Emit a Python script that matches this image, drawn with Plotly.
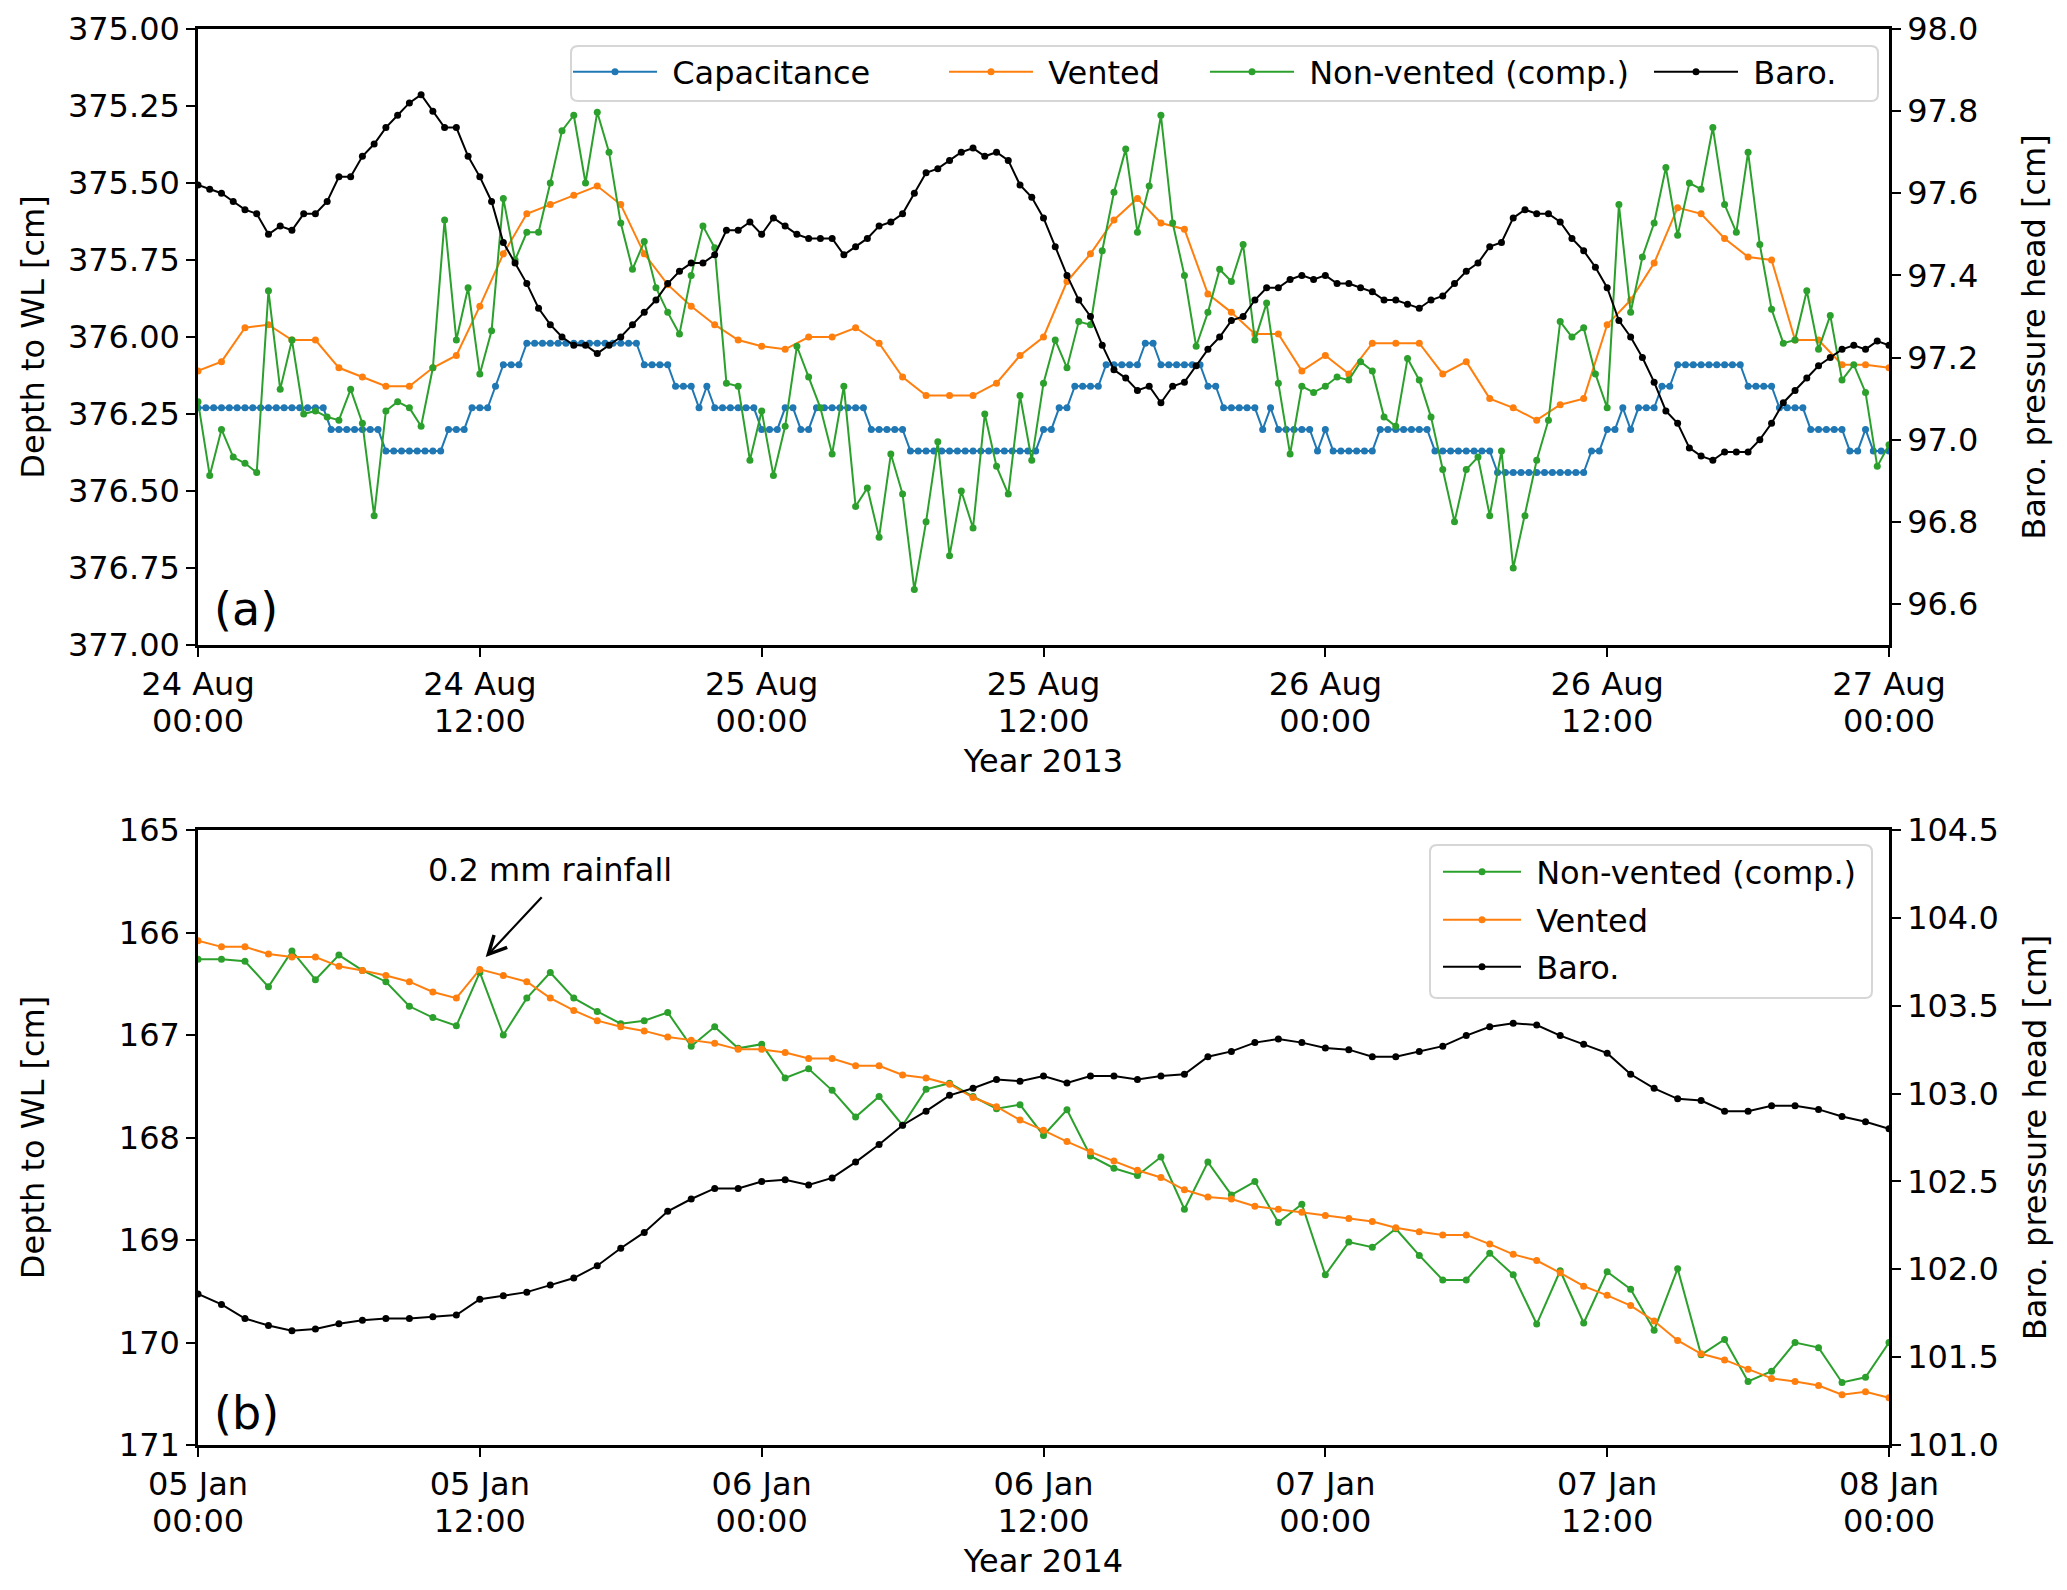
import pandas as pd
import plotly.graph_objects as go
from plotly.subplots import make_subplots

# ---- panel (a): 24-27 Aug 2013 ----
start_a = '2013-08-24 00:00'

# capacitance probe, 20 min readings [cm]
capacitance = [
    376.23, 376.23, 376.23, 376.23, 376.23, 376.23, 376.23, 376.23, 376.23, 376.23, 376.23, 376.23, 376.23, 376.23, 376.23, 376.23, 376.23,
    376.30, 376.30, 376.30, 376.30, 376.30, 376.30, 376.30,
    376.37, 376.37, 376.37, 376.37, 376.37, 376.37, 376.37, 376.37,
    376.30, 376.30, 376.30,
    376.23, 376.23, 376.23,
    376.16,
    376.09, 376.09, 376.09,
    376.02, 376.02, 376.02, 376.02, 376.02, 376.02, 376.02, 376.02, 376.02, 376.02, 376.02, 376.02, 376.02, 376.02, 376.02,
    376.09, 376.09, 376.09, 376.09,
    376.16, 376.16, 376.16,
    376.23,
    376.16,
    376.23, 376.23, 376.23, 376.23, 376.23, 376.23,
    376.30, 376.30, 376.30,
    376.23, 376.23,
    376.30, 376.30,
    376.23, 376.23, 376.23, 376.23, 376.23, 376.23, 376.23,
    376.30, 376.30, 376.30, 376.30, 376.30,
    376.37, 376.37, 376.37, 376.37, 376.37, 376.37, 376.37, 376.37, 376.37, 376.37, 376.37, 376.37, 376.37, 376.37, 376.37, 376.37, 376.37,
    376.30, 376.30,
    376.23, 376.23,
    376.16, 376.16, 376.16, 376.16,
    376.09, 376.09, 376.09, 376.09, 376.09,
    376.02, 376.02,
    376.09, 376.09, 376.09, 376.09, 376.09, 376.09,
    376.16, 376.16,
    376.23, 376.23, 376.23, 376.23, 376.23,
    376.30,
    376.23,
    376.30, 376.30, 376.30, 376.30, 376.30,
    376.37,
    376.30,
    376.37, 376.37, 376.37, 376.37, 376.37, 376.37,
    376.30, 376.30, 376.30, 376.30, 376.30, 376.30, 376.30,
    376.37, 376.37, 376.37, 376.37, 376.37, 376.37, 376.37, 376.37,
    376.44, 376.44, 376.44, 376.44, 376.44, 376.44, 376.44, 376.44, 376.44, 376.44, 376.44, 376.44,
    376.37, 376.37,
    376.30, 376.30,
    376.23,
    376.30,
    376.23, 376.23, 376.23,
    376.16, 376.16,
    376.09, 376.09, 376.09, 376.09, 376.09, 376.09, 376.09, 376.09, 376.09,
    376.16, 376.16, 376.16, 376.16,
    376.23, 376.23, 376.23, 376.23,
    376.30, 376.30, 376.30, 376.30, 376.30,
    376.37, 376.37,
    376.30,
    376.37, 376.37, 376.37,
]

# vented transducer, hourly [cm]
vented_a = [
    376.11, 376.08, 375.97, 375.96, 376.01, 376.01, 376.10, 376.13, 376.16, 376.16, 376.10, 376.06,
    375.90, 375.73, 375.60, 375.57, 375.54, 375.51, 375.57,
    375.73, 375.83, 375.90, 375.96, 376.01, 376.03, 376.04, 376.00, 376.00, 375.97, 376.02, 376.13,
    376.19, 376.19, 376.19, 376.15, 376.06, 376.00, 375.82,
    375.73, 375.62, 375.55, 375.63, 375.65, 375.86, 375.92, 375.99, 375.99, 376.11, 376.06, 376.12,
    376.02, 376.02, 376.02, 376.12, 376.08, 376.20,
    376.23, 376.27, 376.22, 376.20, 375.96, 375.88, 375.76, 375.58, 375.60, 375.68, 375.74, 375.75,
    376.01, 376.01, 376.09, 376.09, 376.10,
]

# non-vented transducer, baro compensated, 30 min [cm]
nonvented_a = [
    376.21, 376.45, 376.30, 376.39, 376.41, 376.44, 375.85, 376.17, 376.01, 376.25, 376.24, 376.26,
    376.27, 376.17, 376.28, 376.58, 376.24, 376.21, 376.23, 376.29, 376.10, 375.62, 376.01, 375.84,
    376.12, 375.98, 375.55, 375.75, 375.66, 375.66, 375.50, 375.33, 375.28, 375.50, 375.27, 375.40,
    375.63, 375.78,
    375.69, 375.84, 375.92, 375.99, 375.80, 375.64, 375.71, 376.15, 376.16, 376.40, 376.24, 376.45,
    376.29, 376.03, 376.13, 376.23, 376.38, 376.16, 376.55, 376.49, 376.65, 376.38, 376.51, 376.82,
    376.60, 376.34, 376.71, 376.50, 376.62, 376.25, 376.42, 376.51, 376.19, 376.40, 376.15, 376.01,
    376.10,
    375.95, 375.96, 375.72, 375.53, 375.39, 375.66, 375.51, 375.28, 375.63, 375.80, 376.03, 375.92,
    375.78, 375.82, 375.70, 376.01, 375.89, 376.15, 376.38, 376.16, 376.18, 376.16, 376.13, 376.14,
    376.08, 376.11, 376.26, 376.29, 376.07, 376.14, 376.26, 376.43, 376.60, 376.43, 376.39, 376.58,
    376.37, 376.75, 376.58, 376.40, 376.27, 375.95, 376.00, 375.97, 376.12, 376.23, 375.57, 375.92,
    375.74, 375.63, 375.45, 375.67, 375.50, 375.52, 375.32, 375.57, 375.66, 375.40, 375.70, 375.91,
    376.02, 376.01, 375.85, 376.04, 375.93, 376.14, 376.09, 376.18, 376.42, 376.35,
]

# barometric pressure head, 30 min [cm]
baro_a = [
    97.62, 97.61, 97.60, 97.58, 97.56, 97.55, 97.50, 97.52, 97.51, 97.55, 97.55, 97.58,
    97.64, 97.64, 97.69, 97.72, 97.76, 97.79, 97.82, 97.84, 97.80, 97.76, 97.76, 97.69,
    97.64, 97.58, 97.48, 97.43, 97.38, 97.32, 97.28, 97.25, 97.23, 97.23, 97.21, 97.23,
    97.25, 97.28,
    97.31, 97.34, 97.38, 97.41, 97.43, 97.43, 97.45, 97.51, 97.51, 97.53, 97.50, 97.54,
    97.52, 97.50, 97.49, 97.49, 97.49, 97.45, 97.47, 97.49, 97.52, 97.53, 97.55, 97.60,
    97.65, 97.66, 97.68, 97.70, 97.71, 97.69, 97.70, 97.68, 97.62, 97.59, 97.54, 97.47,
    97.40,
    97.34, 97.30, 97.23, 97.17, 97.15, 97.12, 97.13, 97.09, 97.13, 97.14, 97.18, 97.22,
    97.25, 97.29, 97.30, 97.34, 97.37, 97.37, 97.39, 97.40, 97.39, 97.40, 97.38, 97.38,
    97.37, 97.36, 97.34, 97.34, 97.33, 97.32, 97.34, 97.35, 97.38, 97.41, 97.43, 97.47,
    97.48,
    97.54, 97.56, 97.55, 97.55, 97.53, 97.49, 97.46, 97.42, 97.37, 97.29, 97.25, 97.20,
    97.14, 97.07, 97.04, 96.98, 96.96, 96.95, 96.97, 96.97, 96.97, 97.00, 97.04, 97.09,
    97.12, 97.15, 97.18, 97.20, 97.22, 97.23, 97.22, 97.24, 97.23,
]

# ---- panel (b): 5-8 Jan 2014, hourly ----
start_b = '2014-01-05 00:00'

nonvented_b = [
    166.26, 166.26, 166.28, 166.53, 166.18, 166.46, 166.22, 166.37, 166.48, 166.72, 166.83, 166.91,
    166.39, 167.00, 166.64, 166.39, 166.64, 166.77, 166.89,
    166.86, 166.78, 167.11, 166.92, 167.13, 167.09, 167.42, 167.33, 167.54, 167.80, 167.60, 167.88,
    167.53, 167.47, 167.60, 167.72, 167.68, 167.98, 167.73,
    168.18, 168.30, 168.37, 168.19, 168.70, 168.24, 168.56, 168.43, 168.83, 168.65, 169.34, 169.02,
    169.07, 168.89, 169.15, 169.39, 169.39, 169.13,
    169.34, 169.82, 169.30, 169.81, 169.31, 169.48, 169.88, 169.28, 170.12, 169.97, 170.38, 170.28,
    170.00, 170.05, 170.39, 170.34, 170.00,
]

vented_b = [
    166.08, 166.14, 166.14, 166.21, 166.24, 166.24, 166.33, 166.37, 166.42, 166.48, 166.58, 166.64,
    166.36, 166.42, 166.48, 166.64, 166.76, 166.86, 166.92,
    166.96, 167.02, 167.05, 167.08, 167.14, 167.14, 167.17, 167.23, 167.23, 167.30, 167.30, 167.39,
    167.42, 167.48, 167.61, 167.70, 167.83, 167.93, 168.04,
    168.14, 168.23, 168.32, 168.39, 168.51, 168.58, 168.60, 168.67, 168.70, 168.73, 168.76, 168.79,
    168.82, 168.88, 168.92, 168.95, 168.95, 169.04,
    169.14, 169.20, 169.32, 169.45, 169.54, 169.64, 169.79, 169.98, 170.11, 170.17, 170.26, 170.35,
    170.38, 170.42, 170.51, 170.48, 170.54,
]

baro_b = [
    101.86, 101.80, 101.72, 101.68, 101.65, 101.66, 101.69, 101.71, 101.72, 101.72, 101.73, 101.74,
    101.83, 101.85, 101.87, 101.91, 101.95, 102.02, 102.12,
    102.21, 102.33, 102.40, 102.46, 102.46, 102.50, 102.51, 102.48, 102.52, 102.61, 102.71, 102.82,
    102.90, 102.99, 103.03, 103.08, 103.07, 103.10, 103.06,
    103.10, 103.10, 103.08, 103.10, 103.11, 103.21, 103.24, 103.29, 103.31, 103.29, 103.26, 103.25,
    103.21, 103.21, 103.24, 103.27, 103.33, 103.38,
    103.40, 103.39, 103.33, 103.28, 103.23, 103.11, 103.03, 102.97, 102.96, 102.90, 102.90, 102.93,
    102.93, 102.91, 102.87, 102.84, 102.80,
]

BLUE, ORANGE, GREEN = '#1f77b4', '#ff7f0e', '#2ca02c'
W, H = 2067, 1590
FS = 32
NB = '\u00a0'  # small gap between legend handle and label


def times(start, step, values):
    return pd.date_range(start=start, periods=len(values), freq=step)


def series(x, y, name, color, legend):
    return go.Scatter(x=x, y=y, name=NB + name, mode='lines+markers',
                      line=dict(color=color, width=2),
                      marker=dict(color=color, size=7),
                      legend=legend)


fig = make_subplots(rows=2, cols=1, specs=[[{'secondary_y': True}], [{'secondary_y': True}]])

# every legend entry gets its own legend so the matplotlib-like spacing can be kept
fig.add_trace(series(times(start_a, '20min', capacitance), capacitance, 'Capacitance', BLUE, 'legend'), row=1, col=1)
fig.add_trace(series(times(start_a, '1h', vented_a), vented_a, 'Vented', ORANGE, 'legend2'), row=1, col=1)
fig.add_trace(series(times(start_a, '30min', nonvented_a), nonvented_a, 'Non-vented (comp.)', GREEN, 'legend3'), row=1, col=1)
fig.add_trace(series(times(start_a, '30min', baro_a), baro_a, 'Baro.', 'black', 'legend4'), row=1, col=1, secondary_y=True)

fig.add_trace(series(times(start_b, '1h', nonvented_b), nonvented_b, 'Non-vented (comp.)', GREEN, 'legend5'), row=2, col=1)
fig.add_trace(series(times(start_b, '1h', vented_b), vented_b, 'Vented', ORANGE, 'legend6'), row=2, col=1)
fig.add_trace(series(times(start_b, '1h', baro_b), baro_b, 'Baro.', 'black', 'legend7'), row=2, col=1, secondary_y=True)

# invisible copies that only bring the hour tick-label axes to life
fig.add_trace(go.Scatter(x=times(start_a, '1h', vented_a), y=vented_a, xaxis='x3', yaxis='y',
                         mode='markers', marker=dict(opacity=0), hoverinfo='skip', showlegend=False))
fig.add_trace(go.Scatter(x=times(start_b, '1h', vented_b), y=vented_b, xaxis='x4', yaxis='y3',
                         mode='markers', marker=dict(opacity=0), hoverinfo='skip', showlegend=False))

xdom = [198 / W, 1889 / W]
dom_a = [1 - 645 / H, 1 - 29 / H]
dom_b = [1 - 1445 / H, 1 - 830 / H]
range_a = ['2013-08-24 00:00', '2013-08-27 00:00']
range_b = ['2014-01-05 00:00', '2014-01-08 00:00']
HALF_DAY = 12 * 3600 * 1000

axis_style = dict(showline=True, linecolor='black', linewidth=2.5, ticks='outside',
                  ticklen=9, tickwidth=2, tickcolor='black', showgrid=False,
                  zeroline=False, automargin=False)
title_font = dict(size=FS)
# second line of the date tick labels (hour), drawn by an overlaid axis so the
# line spacing can follow the original
hour_axis = dict(type='date', showline=False, ticks='', showgrid=False, zeroline=False,
                 automargin=False, dtick=HALF_DAY, tickformat='%H:%M',
                 ticklabelstandoff=54, side='bottom')

fig.update_layout(
    width=W, height=H, template='none',
    margin=dict(l=0, r=0, t=0, b=0),
    paper_bgcolor='white', plot_bgcolor='white',
    font=dict(family='DejaVu Sans', size=FS, color='black'),
    xaxis=dict(axis_style, domain=xdom, type='date', mirror=True, range=range_a,
               dtick=HALF_DAY, tickformat='%d %b',
               title=dict(text='Year 2013', standoff=48, font=title_font)),
    xaxis3=dict(hour_axis, overlaying='x', anchor='y', range=range_a),
    yaxis=dict(axis_style, domain=dom_a, range=[377.0, 375.0],
               tickvals=[375.0, 375.25, 375.5, 375.75, 376.0, 376.25, 376.5, 376.75, 377.0],
               tickformat='.2f', title=dict(text='Depth to WL [cm]', standoff=14, font=title_font)),
    yaxis2=dict(axis_style, range=[96.5, 98.0],
                tickvals=[96.6, 96.8, 97.0, 97.2, 97.4, 97.6, 97.8, 98.0],
                tickformat='.1f', title=dict(text='Baro. pressure head [cm]', standoff=46, font=title_font)),
    xaxis2=dict(axis_style, domain=xdom, type='date', mirror=True, range=range_b,
                dtick=HALF_DAY, tickformat='%d %b',
                title=dict(text='Year 2014', standoff=48, font=title_font)),
    xaxis4=dict(hour_axis, overlaying='x2', anchor='y3', range=range_b),
    yaxis3=dict(axis_style, domain=dom_b, range=[171, 165], dtick=1,
                title=dict(text='Depth to WL [cm]', standoff=65, font=title_font)),
    yaxis4=dict(axis_style, range=[101.0, 104.5], dtick=0.5, tickformat='.1f',
                title=dict(text='Baro. pressure head [cm]', standoff=26, font=title_font)),
    showlegend=True,
)

# legend entries: (legend id, left edge, row centre, handle width) in figure pixels
legend_spots = [
    ('legend', 568, 72, 84), ('legend2', 944, 72, 84), ('legend3', 1205, 72, 84), ('legend4', 1649, 72, 84),
    ('legend5', 1438, 872, 78), ('legend6', 1438, 920, 78), ('legend7', 1438, 967, 78),
]
for name, px, py, iw in legend_spots:
    fig.update_layout({name: dict(x=px / W, xanchor='left', y=1 - py / H, yanchor='middle',
                                  bgcolor='rgba(0,0,0,0)', borderwidth=0, itemwidth=iw,
                                  font=dict(size=FS))})


def rounded_box(x0, y0, x1, y1, r=7):
    rx, ry = r / W, r / H
    X0, X1 = x0 / W, x1 / W
    Y0, Y1 = 1 - y1 / H, 1 - y0 / H
    return (f'M{X0 + rx},{Y0} L{X1 - rx},{Y0} Q{X1},{Y0} {X1},{Y0 + ry} '
            f'L{X1},{Y1 - ry} Q{X1},{Y1} {X1 - rx},{Y1} L{X0 + rx},{Y1} '
            f'Q{X0},{Y1} {X0},{Y1 - ry} L{X0},{Y0 + ry} Q{X0},{Y0} {X0 + rx},{Y0} Z')


for box in [(571, 46, 1878, 101), (1430, 845, 1872, 998)]:
    fig.add_shape(type='path', path=rounded_box(*box), xref='paper', yref='paper',
                  layer='above', fillcolor='rgba(255,255,255,0.8)',
                  line=dict(color='#d6d6d6', width=2))

fig.add_annotation(text='(a)', xref='paper', yref='paper', x=212 / W, y=1 - 609 / H,
                   xanchor='left', yanchor='middle', showarrow=False, font=dict(size=46))
fig.add_annotation(text='(b)', xref='paper', yref='paper', x=212 / W, y=1 - 1413 / H,
                   xanchor='left', yanchor='middle', showarrow=False, font=dict(size=46))

# rainfall note: text and arrow kept separate, as in the matplotlib annotate
fig.add_annotation(text='0.2 mm rainfall', xref='x2', yref='y3',
                   x='2014-01-05 15:00', y=165.39, showarrow=False, font=dict(size=FS))
fig.add_annotation(text=' ', xref='x2', yref='y3', x='2014-01-05 12:15', y=166.24,
                   ax=58, ay=-62, showarrow=True, arrowhead=5, arrowsize=1.6,
                   arrowwidth=2.2, arrowcolor='black', font=dict(size=2))

fig.write_html('out.html', config={'displayModeBar': False},
               post_script="document.body.style.margin='0';")
